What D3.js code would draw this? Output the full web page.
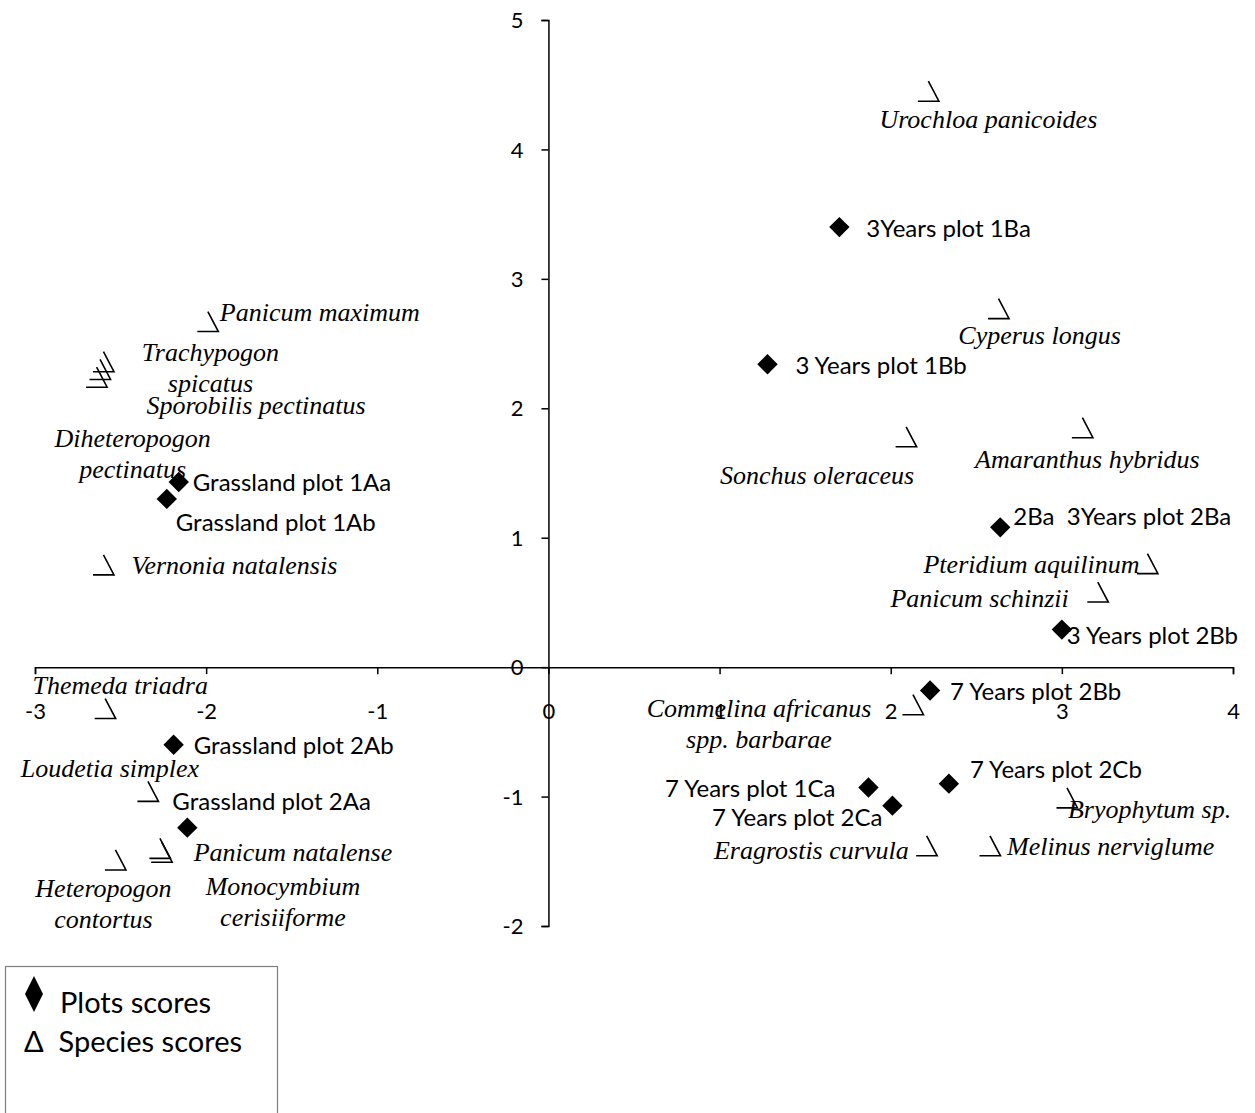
<!DOCTYPE html>
<html><head><meta charset="utf-8">
<script src="https://cdn.jsdelivr.net/npm/d3@7"></script>
<style>body{margin:0;background:#fff}svg{display:block}text{white-space:pre}</style>
</head><body>
<svg id="c" width="1255" height="1113"></svg>
<script>
// ---------- data ----------
const xTicks = [-3, -2, -1, 0, 1, 2, 3, 4];
const yTicks = [-2, -1, 0, 1, 2, 3, 4, 5];

const plotNames = ["Grassland plot 1Aa", "Grassland plot 1Ab", "Grassland plot 2Ab", "Grassland plot 2Aa",
  "3Years plot 1Ba", "3 Years plot 1Bb", "2Ba  3Years plot 2Ba", "3 Years plot 2Bb",
  "7 Years plot 2Bb", "7 Years plot 1Ca", "7 Years plot 2Ca", "7 Years plot 2Cb"];
const plotX = [-2.16, -2.23, -2.19, -2.11, 1.70, 1.28, 2.64, 3.00, 2.23, 1.87, 2.01, 2.34];
const plotY = [1.43, 1.30, -0.60, -1.24, 3.40, 2.34, 1.08, 0.29, -0.18, -0.93, -1.07, -0.90];

const speciesNames = ["Urochloa panicoides", "Cyperus longus", "Sonchus oleraceus", "Amaranthus hybridus",
  "Pteridium aquilinum", "Panicum schinzii", "Bryophytum sp.", "Melinus nerviglume", "Eragrostis curvula",
  "Commelina africanus|spp. barbarae", "Panicum maximum", "Trachypogon|spicatus", "Sporobilis pectinatus",
  "Diheteropogon|pectinatus", "Vernonia natalensis", "Themeda triadra", "Loudetia simplex",
  "Heteropogon|contortus", "Panicum natalense", "Monocymbium|cerisiiforme"];
const speciesX = [2.22, 2.63, 2.09, 3.12, 3.50, 3.21, 3.03, 2.58, 2.21, 2.13, -1.99, -2.60, -2.62, -2.64,
  -2.60, -2.59, -2.34, -2.53, -2.26, -2.27];
const speciesY = [4.45, 2.77, 1.78, 1.85, 0.80, 0.58, -1.01, -1.38, -1.38, -0.29, 2.67, 2.36, 2.30, 2.24,
  0.79, -0.32, -0.96, -1.49, -1.43, -1.40];

const legendLabels = ["Plots scores", "Δ  Species scores"];

// ---------- layout (label placement, px) ----------
const plotLabelPos = [[14,1,"start"],[9,24,"start"],[20,1,"start"],[-15,-26,"start"],[27,2,"start"],
  [28,1,"start"],[13,-11,"start"],[5,6,"start"],[20,1,"start"],[-33,1,"end"],[-10,12,"end"],[21,-14,"start"]];
const speciesLabelPos = [[60,28,"middle"],[41,26,"middle"],[-89,38,"middle"],[5,31,"middle"],[-8,0,"end"],
  [-29,6,"end"],[1,11,"start"],[17,0,"start"],[-18,4,"end"],[-154,3,"middle"],[12,-10,"start"],
  [107,-10,"middle"],[156,35,"middle"],[36,61,"middle"],[28,0,"start"],[15,-24,"middle"],[-38,-24,"middle"],
  [-12,28,"middle"],[32,0,"start"],[123,38,"middle"]];

const sans = "Lato, 'Open Sans', sans-serif";
const serif = "'Liberation Serif', 'DejaVu Serif', serif";

const svg = d3.select("#c");
const x = d3.scaleLinear().domain([-3, 4]).range([35, 1233]);
const y = d3.scaleLinear().domain([-2, 5]).range([926, 20]);

// x axis
const gx = svg.append("g").attr("transform", `translate(0,${y(0)})`)
  .call(d3.axisBottom(x).tickValues(xTicks).tickSize(7).tickSizeOuter(7).tickFormat(d => String(d)));
gx.select(".domain").attr("stroke", "#000").attr("stroke-width", 1.5);
gx.selectAll(".tick line").attr("stroke", "#000").attr("stroke-width", 1.5);
gx.selectAll(".tick text").attr("y", 44).attr("dy", "0.35em")
  .style("font-family", sans).style("font-size", "22px").attr("fill", "#000");

// y axis
const gy = svg.append("g").attr("transform", `translate(${x(0)},0)`)
  .call(d3.axisLeft(y).tickValues(yTicks).tickSize(7).tickSizeOuter(7).tickFormat(d => String(d)));
gy.select(".domain").attr("stroke", "#000").attr("stroke-width", 1.5);
gy.selectAll(".tick line").attr("stroke", "#000").attr("stroke-width", 1.5);
gy.selectAll(".tick text").attr("x", -25).attr("dy", "0.35em")
  .style("font-family", sans).style("font-size", "22px").attr("fill", "#000");

// species markers
const spMarker = "M-10.5,10L10.5,10L0,-10";
const sp = svg.append("g").selectAll("g").data(speciesNames).join("g")
  .attr("transform", (d, i) => `translate(${x(speciesX[i])},${y(speciesY[i])})`);
sp.append("path").attr("d", spMarker).attr("fill", "none").attr("stroke", "#000").attr("stroke-width", 1.6);
sp.each(function (d, i) {
  const [dx, dy, an] = speciesLabelPos[i];
  const t = d3.select(this).append("text").attr("x", dx).attr("y", dy).attr("text-anchor", an)
    .style("font-family", serif).style("font-style", "italic").style("font-size", "26px").attr("fill", "#000");
  d.split("|").forEach((line, k) => {
    t.append("tspan").attr("x", dx).attr("y", dy + k * 31).attr("dy", "0.35em").text(line);
  });
});

// plot markers
const pl = svg.append("g").selectAll("g").data(plotNames).join("g")
  .attr("transform", (d, i) => `translate(${x(plotX[i])},${y(plotY[i])})`);
pl.append("path").attr("d", d3.symbol(d3.symbolDiamond2, 265)).attr("fill", "#000");
pl.append("text").attr("x", (d, i) => plotLabelPos[i][0]).attr("y", (d, i) => plotLabelPos[i][1])
  .attr("text-anchor", (d, i) => plotLabelPos[i][2]).attr("dy", "0.35em")
  .style("font-family", sans).style("font-size", "24px").attr("fill", "#000").text(d => d);

// legend
const lg = svg.append("g");
lg.append("rect").attr("x", 5.5).attr("y", 966.5).attr("width", 272).attr("height", 160)
  .attr("fill", "#fff").attr("stroke", "#7f7f7f").attr("stroke-width", 1.2);
lg.append("path").attr("d", "M0,-18L9,0L0,18L-9,0Z").attr("transform", "translate(34,994)").attr("fill", "#000");
lg.append("text").attr("x", 60).attr("y", 1003).attr("dy", "0.35em").style("font-family", sans)
  .style("font-size", "29px").text(legendLabels[0]);
lg.append("text").attr("x", 24).attr("y", 1042).attr("dy", "0.35em").style("font-family", sans)
  .style("font-size", "29px").text(legendLabels[1]);
</script>
</body></html>
